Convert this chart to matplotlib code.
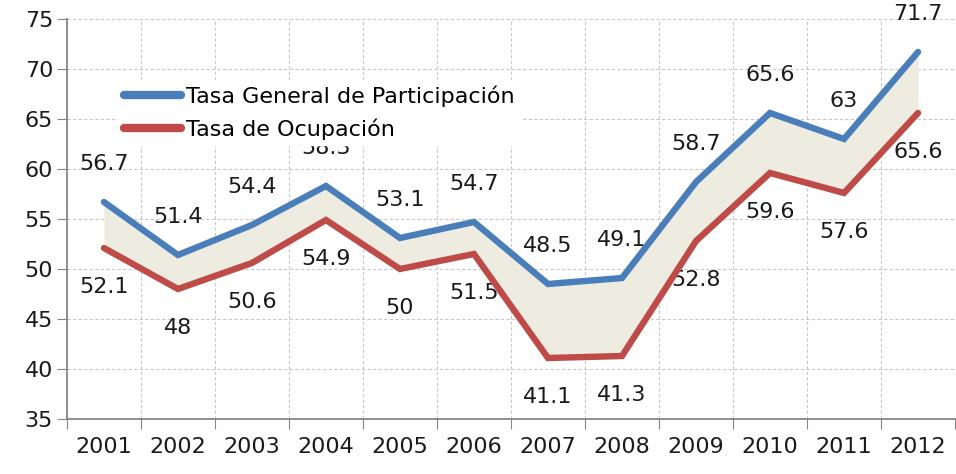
import matplotlib.pyplot as plt
import numpy as np

plt.rcParams['font.family'] = 'DejaVu Sans'
plt.rcParams['font.size'] = 16

# Data
years = ['2001', '2002', '2003', '2004', '2005', '2006',
         '2007', '2008', '2009', '2010', '2011', '2012']
tasa_general = [56.7, 51.4, 54.4, 58.3, 53.1, 54.7, 48.5, 49.1, 58.7, 65.6, 63, 71.7]
tasa_ocupacion = [52.1, 48, 50.6, 54.9, 50, 51.5, 41.1, 41.3, 52.8, 59.6, 57.6, 65.6]

BLUE = '#4a7ebb'
RED = '#be4b48'
FILL = '#eeece1'
AXIS = '#868686'
TEXT = '#1a1a1a'
FS = 16

fig = plt.figure(figsize=(9.56, 4.74), dpi=100)
ax = fig.add_axes([0.070, 0.116, 0.929, 0.844])

x = np.arange(len(years))

ax.fill_between(x, tasa_ocupacion, tasa_general, color=FILL, zorder=2, linewidth=0)
ax.plot(x, tasa_general, color=BLUE, linewidth=4.6, solid_capstyle='round',
        solid_joinstyle='miter', label='Tasa General de Participación', zorder=4)
ax.plot(x, tasa_ocupacion, color=RED, linewidth=4.6, solid_capstyle='round',
        solid_joinstyle='miter', label='Tasa de Ocupación', zorder=3)


def fmt(v):
    return f'{v:g}'


for xi, v in zip(x, tasa_general):
    ax.annotate(fmt(v), xy=(xi, v), xytext=(0, 27), textcoords='offset points',
                ha='center', va='center', color=TEXT, fontsize=FS, zorder=1)
for xi, v in zip(x, tasa_ocupacion):
    ax.annotate(fmt(v), xy=(xi, v), xytext=(0, -28), textcoords='offset points',
                ha='center', va='center', color=TEXT, fontsize=FS, zorder=1)

ax.set_xlim(-0.5, len(years) - 0.5)
ax.set_ylim(35, 75)
ax.set_yticks(np.arange(35, 76, 5))

# category boundaries carry the ticks/grid, labels sit at the centres
ax.set_xticks(np.arange(-0.5, len(years), 1.0))
ax.set_xticklabels([])
ax.set_xticks(x, minor=True)
ax.set_xticklabels(years, minor=True)
ax.tick_params(axis='x', which='minor', length=0, pad=13, labelsize=FS, labelcolor=TEXT)
ax.tick_params(axis='x', which='major', length=7, color=AXIS, direction='out')
ax.tick_params(axis='y', length=7, color=AXIS, direction='out', pad=3,
               labelsize=FS, labelcolor=TEXT)

ax.grid(True, which='major', linestyle=(0, (3, 2)), color='#c8c8c8', linewidth=0.8, zorder=0)
ax.set_axisbelow(True)

for side in ['top', 'right']:
    ax.spines[side].set_visible(False)
for side in ['left', 'bottom']:
    ax.spines[side].set_color(AXIS)
    ax.spines[side].set_linewidth(1.3)

leg = ax.legend(loc='upper left', bbox_to_anchor=(0.045, 0.875), frameon=True,
                fancybox=False, framealpha=1.0, edgecolor='white',
                handlelength=2.6, handletextpad=0.2, labelspacing=0.5,
                borderpad=0.25, fontsize=FS)
leg.set_zorder(5)
for line in leg.get_lines():
    line.set_linewidth(6)
    line.set_solid_capstyle('round')

fig.savefig('out.png', dpi=100)
